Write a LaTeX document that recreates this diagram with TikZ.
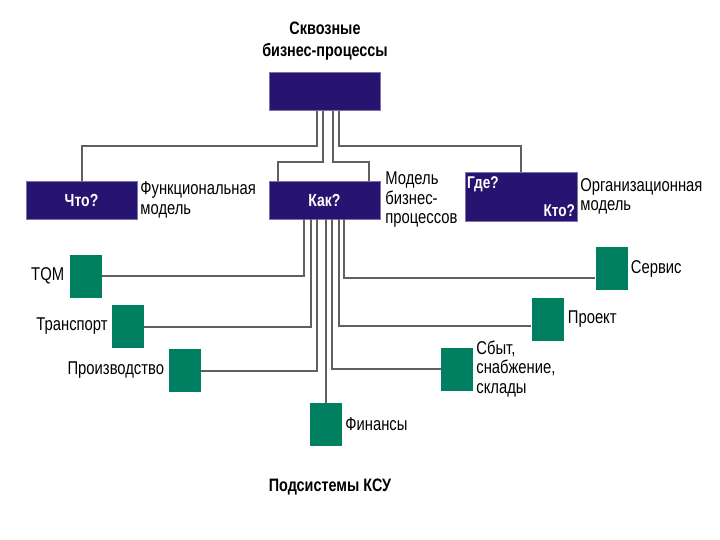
\documentclass[tikz,border=0pt]{standalone}
\usepackage{fontspec}
\setmainfont{Liberation Sans}[FakeStretch=0.8]
\usetikzlibrary{positioning}
\definecolor{ksublue}{RGB}{38,20,112}
\definecolor{ksugreen}{RGB}{0,128,96}
\definecolor{ksugray}{RGB}{95,95,95}
\tikzset{
  qbox/.style={fill=ksublue, draw=ksublue!60!white, minimum width=111pt,
               minimum height=38pt, inner sep=0pt, text=white,
               font=\bfseries\fontsize{17.5}{17.5}\selectfont},
  qtext/.style={text=white, inner sep=0pt, font=\bfseries\fontsize{17}{17}\selectfont},
  sq/.style={fill=ksugreen, minimum width=32pt, minimum height=43pt, inner sep=0pt},
  lbl/.style={font=\fontsize{18.5}{19.5}\selectfont, align=left, inner sep=0pt},
  ttl/.style={font=\bfseries\fontsize{18}{22}\selectfont, align=center, inner sep=0pt},
  link/.style={draw=ksugray, line width=2pt},
}
\begin{document}
\begin{tikzpicture}[x=1pt, y=-1pt]
  \useasboundingbox (0,0) rectangle (720,540);

  % Top level
  \node[ttl] (title) at (325,41) {Сквозные\\бизнес-процессы};
  \node[qbox] (top) at (324.5,91.5) {};

  % Models
  \node[qbox] (chto) at (81.5,200) {Что?};
  \node[qbox] (kak) at (324.5,200) {Как?};
  \node[qbox, minimum width=112pt, minimum height=49pt] (gde) at (521,196.5) {};
  \node[qtext, anchor=north west] (gdetxt) at ([xshift=2pt,yshift=-5pt]gde.north west) {Где?};
  \node[qtext, anchor=south east] (ktotxt) at ([xshift=-2pt,yshift=4pt]gde.south east) {Кто?};

  \node[lbl, right=3pt of chto] (funlbl) {Функциональная\\модель};
  \node[lbl, right=5pt of kak] (kaklbl) {Модель\\бизнес-\\процессов};
  \node[lbl, right=3pt of gde] (orglbl) {Организационная\\модель};

  % Subsystems
  \node[sq] (tqm) at (85.5,276) {};
  \node[sq] (trans) at (128,326.5) {};
  \node[sq] (proizv) at (184.5,370.5) {};
  \node[sq] (fin) at (326,424.5) {};
  \node[sq] (sbyt) at (457,369) {};
  \node[sq] (proekt) at (547.5,319) {};
  \node[sq] (serv) at (611.5,268.5) {};

  \node[lbl, left=5pt of tqm] (tqmlbl) {TQM};
  \node[lbl, left=4pt of trans] (translbl) {Транспорт};
  \node[lbl, left=4pt of proizv] (proizvlbl) {Производство};
  \node[lbl, right=3pt of fin] (finlbl) {Финансы};
  \node[lbl, right=3pt of sbyt] (sbytlbl) {Сбыт,\\снабжение,\\склады};
  \node[lbl, right=4pt of proekt] (proektlbl) {Проект};
  \node[lbl, right=3pt of serv] (servlbl) {Сервис};

  \node[ttl] (footer) at (330,487) {Подсистемы КСУ};

  % Top connectors
  \draw[link] ([xshift=-7.5pt]top.south) -- ++(0,35) -| (chto.north);
  \draw[link] ([xshift=-1.5pt]top.south) -- ++(0,51) -| ([xshift=9pt]kak.north west);
  \draw[link] ([xshift=8.5pt]top.south) -- ++(0,51) -| ([xshift=-11pt]kak.north east);
  \draw[link] ([xshift=14.5pt]top.south) -- ++(0,35) -| (gde.north);

  % Subsystem connectors
  \draw[link] ([xshift=-20.5pt]kak.south) |- (tqm.east);
  \draw[link] ([xshift=-13.5pt]kak.south) |- (trans.east);
  \draw[link] ([xshift=-7.5pt]kak.south) |- (proizv.east);
  \draw[link] (kak.south -| fin.north) -- (fin.north);
  \draw[link] ([xshift=7.5pt]kak.south) |- (sbyt.west);
  \draw[link] ([xshift=14.5pt]kak.south) |- ([yshift=-7pt]proekt.west);
  \draw[link] ([xshift=19.5pt]kak.south) |- ([yshift=-9.5pt]serv.west);
\end{tikzpicture}
\end{document}
